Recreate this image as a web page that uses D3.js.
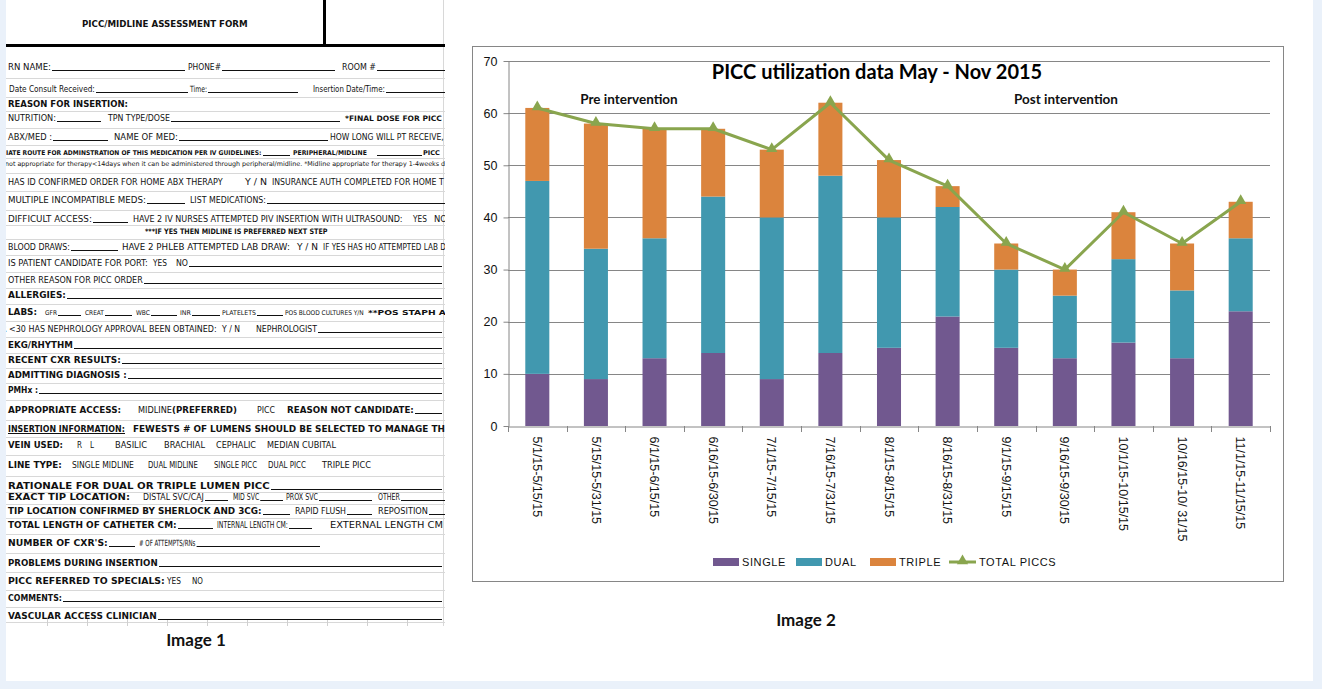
<!DOCTYPE html>
<html>
<head>
<meta charset="utf-8">
<script src="https://cdn.jsdelivr.net/npm/d3@7"></script>
<style>
  html, body { margin: 0; padding: 0; background: #eaf1fa; }
  svg { display: block; }
</style>
</head>
<body>
<svg id="page" width="1322" height="689"></svg>
<script>
const periods = ["5/1/15-5/15/15", "5/15/15-5/31/15", "6/1/15-6/15/15", "6/16/15-6/30/15",
  "7/1/15-7/15/15", "7/16/15-7/31/15", "8/1/15-8/15/15", "8/16/15-8/31/15", "9/1/15-9/15/15",
  "9/16/15-9/30/15", "10/1/15-10/15/15", "10/16/15-10/ 31/15", "11/1/15-11/15/15"];
const single = [10, 9, 13, 14, 9, 14, 15, 21, 15, 13, 16, 13, 22];
const dual   = [37, 25, 23, 30, 31, 34, 25, 21, 15, 12, 16, 13, 14];
const triple = [14, 24, 21, 13, 13, 14, 11, 4, 5, 5, 9, 9, 7];
const totalPiccs = [61, 58, 57, 57, 53, 62, 51, 46, 35, 30, 41, 35, 43];
const yTicks = [0, 10, 20, 30, 40, 50, 60, 70];
const seriesKeys = ["SINGLE", "DUAL", "TRIPLE"];
const lineName = "TOTAL PICCS";
const chartTitle = "PICC utilization data May - Nov 2015";

// ---- form text (Image 1): [centerY, [[x, text, style, textEnd, blankLineEnd]...]] ----
const formRows = [
  [24, [[82, "PICC/MIDLINE ASSESSMENT FORM", "b", 248]]],
  [67, [[8, "RN NAME:", "n", 51, 185], [188, "PHONE#", "n", 221, 335], [342, "ROOM #", "n", 376, 445]]],
  [89, [[9, "Date Consult Received:", "s", 95, 188], [190, "Time:", "s", 207, 298], [313, "Insertion Date/Time:", "s", 385, 445]]],
  [104, [[8, "REASON FOR INSERTION:", "b", 128]]],
  [118, [[8, "NUTRITION:", "n", 56, 101], [108, "TPN TYPE/DOSE", "n", 170, 340], [345, "*FINAL DOSE FOR PICC", "i", 442]]],
  [137, [[8, "ABX/MED :", "n", 52, 108], [114, "NAME OF MED:", "n", 178, 328], [330, "HOW LONG WILL PT RECEIVE,", "n", 444]]],
  [152, [[6, "IATE ROUTE FOR ADMINSTRATION OF THIS MEDICATION PER IV GUIDELINES:", "tb", 262, 290],
         [293, "PERIPHERAL/MIDLINE", "tb", 367], [377, "", "tb", null, 422], [423, "PICC", "tb", 440]]],
  [163, [[5, "not appropriate for therapy<14days when it can be administered through peripheral/midline. *Midline appropriate for therapy 1-4weeks d", "t", 446]]],
  [182, [[8, "HAS ID CONFIRMED ORDER FOR HOME ABX THERAPY", "n", 223], [245, "Y  /  N", "n", 267],
         [272, "INSURANCE AUTH COMPLETED  FOR HOME T", "n", 444]]],
  [200, [[8, "MULTIPLE INCOMPATIBLE MEDS:", "n", 146, 185], [190, "LIST MEDICATIONS:", "n", 266, 445]]],
  [219, [[8, "DIFFICULT ACCESS:", "n", 92, 128], [133, "HAVE 2 IV NURSES ATTEMPTED PIV INSERTION WITH ULTRASOUND:", "n", 403],
         [413, "YES", "n", 427], [434, "NO", "n", 447]]],
  [231, [[145, "***IF YES THEN MIDLINE IS PREFERRED NEXT STEP", "i", 328]]],
  [247, [[8, "BLOOD DRAWS:", "n", 70, 118], [122, "HAVE 2 PHLEB ATTEMPTED LAB DRAW:", "n", 290], [297, "Y  /  N", "n", 318],
         [323, "IF YES HAS HO ATTEMPTED LAB D", "n", 446]]],
  [263, [[8, "IS PATIENT CANDIDATE FOR PORT:", "n", 148], [153, "YES", "n", 167], [176, "NO", "n", 188, 442]]],
  [280, [[8, "OTHER REASON FOR PICC ORDER", "n", 143, 442]]],
  [295, [[8, "ALLERGIES:", "b", 66, 442]]],
  [312, [[8, "LABS:", "b", 37], [45, "GFR", "t", 57, 81], [85, "CREAT", "t", 104, 132], [136, "WBC", "t", 150, 177],
         [180, "INR", "t", 191, 220], [222, "PLATELETS", "t", 256, 283], [285, "POS BLOOD CULTURES Y/N", "t", 364],
         [368, "**POS STAPH A", "i", 446]]],
  [329, [[1, "R <30 HAS NEPHROLOGY APPROVAL BEEN OBTAINED:", "n", 217], [222, "Y  / N", "n", 240],
         [256, "NEPHROLOGIST", "n", 317, 442]]],
  [345, [[8, "EKG/RHYTHM", "b", 73, 442]]],
  [360, [[8, "RECENT CXR RESULTS:", "b", 121, 442]]],
  [375, [[8, "ADMITTING DIAGNOSIS :", "b", 127, 442]]],
  [390, [[8, "PMHx :", "b", 38, 442]]],
  [410, [[8, "APPROPRIATE ACCESS:", "b", 121], [138, "MIDLINE", "n", 172], [172, "(PREFERRED)", "b", 237],
         [257, "PICC", "n", 275], [287, "REASON NOT CANDIDATE:", "b", 414, 442]]],
  [429, [[8, "INSERTION INFORMATION:", "u", 125], [133, "FEWESTS # OF LUMENS SHOULD BE SELECTED TO MANAGE TH", "b", 445]]],
  [445, [[8, "VEIN USED:", "b", 63], [77, "R", "n", 82], [90, "L", "n", 94], [115, "BASILIC", "n", 147],
         [164, "BRACHIAL", "n", 205], [216, "CEPHALIC", "n", 256], [267, "MEDIAN CUBITAL", "n", 336]]],
  [465, [[8, "LINE TYPE:", "b", 62], [72, "SINGLE MIDLINE", "n", 134], [148, "DUAL MIDLINE", "n", 198],
         [214, "SINGLE PICC", "n", 257], [268, "DUAL PICC", "n", 306], [322, "TRIPLE PICC", "n", 371]]],
  [486, [[8, "RATIONALE FOR DUAL OR TRIPLE LUMEN PICC", "b", 270, 442]]],
  [497, [[8, "EXACT TIP LOCATION:", "b", 130], [143, "DISTAL SVC/CAJ", "n", 204, 228], [233, "MID SVC", "n", 259, 283],
         [286, "PROX SVC", "n", 318, 372], [378, "OTHER", "n", 400, 445]]],
  [511, [[8, "TIP LOCATION CONFIRMED BY SHERLOCK AND 3CG:", "b", 262, 290], [295, "RAPID FLUSH", "n", 346, 372],
         [378, "REPOSITION", "n", 428, 445]]],
  [525, [[8, "TOTAL LENGTH OF CATHETER CM:", "b", 177, 213], [217, "INTERNAL LENGTH CM:", "n", 282, 312],
         [330, "EXTERNAL LENGTH CM", "n", 443]]],
  [543, [[8, "NUMBER OF CXR'S:", "b", 108, 135], [139, "# OF ATTEMPTS/RNs", "s", 192, 320]]],
  [563, [[8, "PROBLEMS DURING INSERTION", "b", 158, 442]]],
  [581, [[8, "PICC REFERRED TO SPECIALS:", "b", 165], [167, "YES", "n", 181], [192, "NO", "n", 203]]],
  [598, [[8, "COMMENTS:", "b", 62, 442]]],
  [616, [[8, "VASCULAR ACCESS CLINICIAN", "b", 157, 442]]]
];

const narrow = "'Liberation Sans Narrow', 'DejaVu Sans Condensed', 'Liberation Sans', sans-serif";
const fontStyles = {
  n:  [narrow, 9.5, 400],
  s:  [narrow, 8.5, 400],
  b:  ["DejaVu Sans", 8.5, 700],
  u:  ["DejaVu Sans", 8.5, 700],
  i:  ["DejaVu Sans", 7.5, 700],
  t:  ["'DejaVu Sans Condensed', 'DejaVu Sans'", 6.5, 400],
  tb: ["'DejaVu Sans Condensed', 'DejaVu Sans'", 6.5, 700]
};

const colors = { SINGLE: "#71588f", DUAL: "#4198af", TRIPLE: "#db843d", line: "#89a54e" };

const svg = d3.select("#page");

// white sheet behind both images
svg.append("rect").attr("x", 6).attr("y", 0).attr("width", 1307).attr("height", 681).attr("fill", "#ffffff");

// ================= Image 1: the form =================
svg.append("defs").append("clipPath").attr("id", "formClip")
  .append("rect").attr("x", 6).attr("y", 0).attr("width", 439).attr("height", 630);

const form = svg.append("g").attr("clip-path", "url(#formClip)");

// spreadsheet gridlines between rows
const gridYs = [];
for (let i = 1; i < formRows.length - 1; i++) {
  gridYs.push(Math.round((formRows[i][0] + formRows[i + 1][0]) / 2) + 0.5);
}
gridYs.push(622.5);
form.selectAll("line.grid").data(gridYs).enter().append("line")
  .attr("class", "grid")
  .attr("x1", 6).attr("x2", 445).attr("y1", d => d).attr("y2", d => d)
  .attr("stroke", "#d8d8d8").attr("stroke-width", 1);
form.append("line").attr("x1", 443.5).attr("x2", 443.5).attr("y1", 0).attr("y2", 626)
  .attr("stroke", "#d8d8d8");
// little column marks under the last row
form.selectAll("line.col").data(d3.range(47, 440, 40)).enter().append("line")
  .attr("class", "col")
  .attr("x1", d => d + 0.5).attr("x2", d => d + 0.5).attr("y1", 619).attr("y2", 626)
  .attr("stroke", "#d0d0d0");

// heavy title frame
form.append("line").attr("x1", 6).attr("x2", 445).attr("y1", 45.5).attr("y2", 45.5)
  .attr("stroke", "#000").attr("stroke-width", 3);
form.append("line").attr("x1", 324.5).attr("x2", 324.5).attr("y1", 0).attr("y2", 45)
  .attr("stroke", "#000").attr("stroke-width", 3);

formRows.forEach(function(row) {
  const cy = row[0];
  const base = cy + 3;
  row[1].forEach(function(p) {
    const x = p[0], txt = p[1], st = fontStyles[p[2]], tEnd = p[3], lEnd = p[4];
    let end = x;
    if (txt) {
      const t = form.append("text")
        .attr("transform", "translate(" + x + "," + base + ")")
        .attr("font-family", st[0]).attr("font-size", st[1]).attr("font-weight", st[2])
        .attr("fill", "#111").text(txt);
      const w = t.node().getComputedTextLength();
      if (tEnd) {
        // squeeze or stretch to the width seen in the picture, within reason
        const sx = Math.max(0.72, Math.min(1.3, (tEnd - x) / w));
        t.attr("transform", "translate(" + x + "," + base + ") scale(" + sx + ",1)");
        end = x + w * sx;
      } else {
        end = x + w;
      }
      if (p[2] === "u") {
        form.append("line").attr("x1", x).attr("x2", end)
          .attr("y1", Math.round(base) + 1.5).attr("y2", Math.round(base) + 1.5)
          .attr("stroke", "#111");
      }
    }
    if (lEnd) {
      form.append("line").attr("x1", txt ? end + 1 : x).attr("x2", lEnd)
        .attr("y1", Math.round(base) + 0.5).attr("y2", Math.round(base) + 0.5)
        .attr("stroke", "#111").attr("stroke-width", 1);
    }
  });
});

svg.append("text").attr("x", 196).attr("y", 646).attr("text-anchor", "middle")
  .attr("font-family", "Lato, 'Open Sans', sans-serif").attr("font-weight", 700).attr("font-size", 17)
  .attr("fill", "#111").text("Image 1");

// ================= Image 2: the chart =================
const chart = svg.append("g");
chart.append("rect").attr("x", 472.5).attr("y", 46.5).attr("width", 811).attr("height", 535)
  .attr("fill", "#fff").attr("stroke", "#868686").attr("stroke-width", 1);

const plot = { left: 508, right: 1270, top: 61, bottom: 426 };

const x = d3.scaleBand().domain(periods).range([plot.left, plot.right]).padding(0);
const y = d3.scaleLinear().domain([0, 70]).range([plot.bottom, plot.top]);

// gridlines
chart.selectAll("line.hgrid").data(yTicks.filter(d => d > 0)).enter().append("line")
  .attr("class", "hgrid")
  .attr("x1", plot.left).attr("x2", plot.right)
  .attr("y1", d => Math.round(y(d)) + 0.5).attr("y2", d => Math.round(y(d)) + 0.5)
  .attr("stroke", "#868686").attr("stroke-width", 1);

// stacked bars
const table = periods.map((p, i) => ({ period: p, SINGLE: single[i], DUAL: dual[i], TRIPLE: triple[i] }));
const stacked = d3.stack().keys(seriesKeys)(table);
const barW = x.bandwidth() * 0.41;

chart.selectAll("g.series").data(stacked).enter().append("g")
  .attr("class", "series")
  .attr("fill", d => colors[d.key])
  .selectAll("rect").data(d => d).enter().append("rect")
  .attr("x", d => x(d.data.period) + (x.bandwidth() - barW) / 2)
  .attr("width", barW)
  .attr("y", d => y(d[1]))
  .attr("height", d => y(d[0]) - y(d[1]));

// y axis
const yAxis = chart.append("g")
  .attr("transform", "translate(" + (plot.left + 0.5) + ",0)")
  .call(d3.axisLeft(y).tickValues(yTicks).tickSize(5).tickPadding(6).tickSizeOuter(0));
yAxis.select(".domain").attr("stroke", "#868686");
yAxis.selectAll(".tick line").attr("stroke", "#868686");
yAxis.selectAll(".tick text").attr("font-family", "Liberation Sans, Arial, sans-serif")
  .attr("font-size", 12.5).attr("fill", "#111");

// x axis with ticks between categories
const xAxis = chart.append("g")
  .attr("transform", "translate(0," + (plot.bottom + 0.5) + ")")
  .call(d3.axisBottom(x).tickSize(0).tickSizeOuter(0));
xAxis.select(".domain").attr("stroke", "#868686");
xAxis.selectAll(".tick text")
  .attr("font-family", "Liberation Sans, Arial, sans-serif").attr("font-size", 12.5)
  .attr("fill", "#111")
  .attr("text-anchor", "start")
  .attr("transform", "translate(0,10) rotate(90)")
  .attr("x", 0).attr("y", 0).attr("dy", "0.35em");
chart.selectAll("line.xtick").data(d3.range(periods.length + 1)).enter().append("line")
  .attr("class", "xtick")
  .attr("x1", i => Math.round(plot.left + i * x.step()) + 0.5)
  .attr("x2", i => Math.round(plot.left + i * x.step()) + 0.5)
  .attr("y1", plot.bottom).attr("y2", plot.bottom + 6)
  .attr("stroke", "#868686");

// total line with triangle markers
const line = d3.line().x((d, i) => x(periods[i]) + x.bandwidth() / 2).y(d => y(d));
chart.append("path").datum(totalPiccs)
  .attr("d", line).attr("fill", "none")
  .attr("stroke", colors.line).attr("stroke-width", 3).attr("stroke-linejoin", "round");
chart.selectAll("path.marker").data(totalPiccs).enter().append("path")
  .attr("class", "marker")
  .attr("d", d3.symbol(d3.symbolTriangle).size(55))
  .attr("transform", (d, i) => "translate(" + (x(periods[i]) + x.bandwidth() / 2) + "," + (y(d) - 1) + ")")
  .attr("fill", colors.line);

// titles
chart.append("text").attr("x", 877).attr("y", 79).attr("text-anchor", "middle")
  .attr("font-family", "Lato, 'Open Sans', sans-serif").attr("font-weight", 700).attr("font-size", 20)
  .attr("fill", "#000").text(chartTitle);
chart.append("text").attr("x", 629).attr("y", 104).attr("text-anchor", "middle")
  .attr("font-family", "Lato, 'Open Sans', sans-serif").attr("font-weight", 700).attr("font-size", 13.5)
  .attr("fill", "#111").text("Pre intervention");
chart.append("text").attr("x", 1066).attr("y", 104).attr("text-anchor", "middle")
  .attr("font-family", "Lato, 'Open Sans', sans-serif").attr("font-weight", 700).attr("font-size", 13.5)
  .attr("fill", "#111").text("Post intervention");

// legend
const legendItems = [
  { name: seriesKeys[0], x: 713, kind: "bar" },
  { name: seriesKeys[1], x: 796, kind: "bar" },
  { name: seriesKeys[2], x: 870, kind: "bar" },
  { name: lineName, x: 949, kind: "line" }
];
const legend = chart.selectAll("g.legend").data(legendItems).enter().append("g")
  .attr("class", "legend")
  .attr("transform", d => "translate(" + d.x + ",562)");
legend.filter(d => d.kind === "bar").append("rect")
  .attr("x", 0).attr("y", -4).attr("width", 26).attr("height", 8)
  .attr("fill", d => colors[d.name]);
legend.filter(d => d.kind === "line").append("line")
  .attr("x1", 0).attr("x2", 27).attr("y1", 0).attr("y2", 0)
  .attr("stroke", colors.line).attr("stroke-width", 3);
legend.filter(d => d.kind === "line").append("path")
  .attr("d", d3.symbol(d3.symbolTriangle).size(55))
  .attr("transform", "translate(13.5,-1)").attr("fill", colors.line);
legend.append("text")
  .attr("x", d => d.kind === "line" ? 30 : 29).attr("y", 4)
  .attr("font-family", "Liberation Sans, Arial, sans-serif").attr("font-size", 11)
  .attr("letter-spacing", 0.6).attr("fill", "#111")
  .text(d => d.name);

svg.append("text").attr("x", 806).attr("y", 626).attr("text-anchor", "middle")
  .attr("font-family", "Lato, 'Open Sans', sans-serif").attr("font-weight", 700).attr("font-size", 17)
  .attr("fill", "#111").text("Image 2");
</script>
</body>
</html>
